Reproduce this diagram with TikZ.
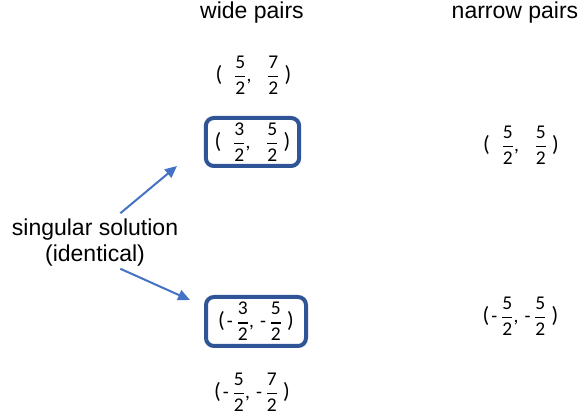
\documentclass[tikz,border=0pt]{standalone}
\usepackage{amsmath}
\usepackage{fontspec}
\setmainfont{Liberation Sans}
\newfontfamily\calib{Carlito}
\usepackage{tikz}
\usetikzlibrary{arrows.meta}

\definecolor{boxblue}{HTML}{2F5597}
\definecolor{arrowblue}{HTML}{4472C4}

\newcommand{\half}[1]{\genfrac{}{}{1.1pt}{0}{\text{#1}}{\text{2}}}
\newcommand{\mns}{-}
\newcommand{\pls}{\phantom{-}}
\newcommand{\bigp}[1]{{\fontsize{16.5}{17}\selectfont #1}}
\newcommand{\pair}[4]{\bigp{(}\hspace{1.5pt}#1\hspace{2.5pt}$\half{#2}$,\hspace{4.5pt}#3\hspace{2.5pt}$\half{#4}$\hspace{3.5pt}\bigp{)}}

\begin{document}
\begin{tikzpicture}[x=0.75pt,y=-0.75pt,
  every node/.style={align=center},
  head/.style={font=\fontsize{17.25}{19.5}\selectfont},
  pairtxt/.style={font=\calib\fontsize{14.6}{17}\selectfont},
  solbox/.style={pairtxt,draw=boxblue,line width=3pt,rounded corners=6pt},
  hint/.style={draw=arrowblue,line width=1.5pt,-{Triangle[length=9pt,width=8pt]}}]
\useasboundingbox (0,0) rectangle (579,417);

% column titles
\node[head,anchor=base] (wide) at (252,18.5) {wide pairs};
\node[head,anchor=base] (narrow) at (515,18.5) {narrow pairs};

% wide pairs
\node[pairtxt] (w1) at (253.5,75) {\pair{\pls}{5}{\pls}{7}};
\node[solbox,minimum width=70pt,minimum height=36pt] (w2) at (252.5,142) {\pair{\pls}{3}{\pls}{5}};
\node[solbox,minimum width=75pt,minimum height=36.75pt] (w3) at (256,321.5) {\pair{\mns}{3}{\mns}{5}};
\node[pairtxt] (w4) at (252,392) {\pair{\mns}{5}{\mns}{7}};

% narrow pairs
\node[pairtxt] (n1) at (521,145) {\pair{\pls}{5}{\pls}{5}};
\node[pairtxt] (n2) at (520.5,316) {\pair{\mns}{5}{\mns}{5}};

% note
\node[head] (lbl) at (95,243) {singular solution\\(identical)};
\coordinate (tipA) at (177,166);
\coordinate (tipB) at (190,300);
\draw[hint] ([xshift=19pt,yshift=1pt]lbl.north) -- (tipA);
\draw[hint] ([xshift=19pt,yshift=2pt]lbl.south) -- (tipB);
\end{tikzpicture}
\end{document}
